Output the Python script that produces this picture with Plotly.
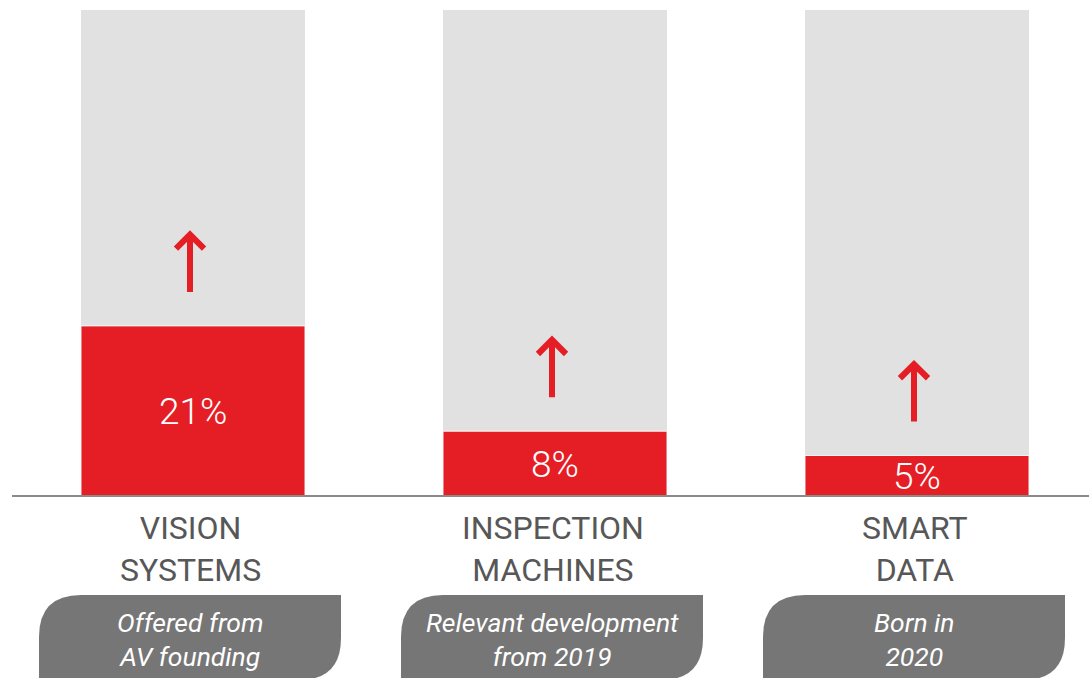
import plotly.graph_objects as go

# ---- data ----
categories = ["VISION<br>SYSTEMS", "INSPECTION<br>MACHINES", "SMART<br>DATA"]
shares = [21, 8, 5]
share_labels = ["21%", "8%", "5%"]
scale_full = [60, 60, 60]
notes = ["Offered from<br>AV founding", "Relevant development<br>from 2019", "Born in<br>2020"]

# ---- layout geometry (pixels) ----
W, H = 1089, 678
X0_PX, X_STEP = 193, 362        # pixel centre of first bar, spacing
BASE_PX, Y_PX = 496, 8.1        # baseline pixel, pixels per unit
BAR_W = 224 / X_STEP

xs = list(range(len(categories)))
xrange_ = [-X0_PX / X_STEP, (W - X0_PX) / X_STEP]
yrange_ = [-(H - BASE_PX) / Y_PX, BASE_PX / Y_PX]

def px_x(i, dx=0):
    return (X0_PX + i * X_STEP + dx) / W

def px_y(py):
    return 1 - py / H

RED = "#e51e25"
GREY_BG = "#e1e1e1"
FONT = "Roboto"

fig = go.Figure()
fig.add_trace(go.Bar(x=xs, y=scale_full, width=BAR_W, marker=dict(color=GREY_BG, line=dict(width=0)),
                     hoverinfo="skip", showlegend=False))
fig.add_trace(go.Bar(x=xs, y=shares, width=BAR_W,
                     marker=dict(color=RED, line=dict(color="rgba(255,255,255,0.9)", width=1)),
                     hoverinfo="skip", showlegend=False))

annotations = []
shapes = []
for i, (cat, v, lab, note) in enumerate(zip(categories, shares, share_labels, notes)):
    # percent label
    annotations.append(dict(x=i, y=v / 2, xref="x", yref="y", text=lab, showarrow=False,
                            xanchor="center", yanchor="middle", yshift=-1,
                            font=dict(family=FONT, size=37, color="white", weight=300)))
    # up arrow
    annotations.append(dict(x=i - 3 / X_STEP, y=v + 11.8, ax=i - 3 / X_STEP, ay=v + 4.0,
                            xref="x", yref="y", axref="x", ayref="y", text="",
                            showarrow=True, arrowhead=4, arrowsize=0.9, arrowwidth=6,
                            arrowcolor=RED, standoff=0))
    # category label
    annotations.append(dict(x=px_x(i, -2), y=px_y(549), xref="paper", yref="paper", text=cat,
                            showarrow=False, align="center", xanchor="center", yanchor="middle",
                            font=dict(family=FONT, size=32, color="#575757")))
    # note box
    L, R = px_x(i, -154), px_x(i, 148)
    T, B = px_y(595), px_y(680)
    rx, ry = 42 / W, 42 / H
    path = (f"M{L},{B} L{L},{T - ry} Q{L},{T} {L + rx},{T} L{R},{T} "
            f"L{R},{B + ry} Q{R},{B} {R - rx},{B} Z")
    shapes.append(dict(type="path", path=path, xref="paper", yref="paper",
                       fillcolor="#767676", line=dict(width=0), layer="above"))
    annotations.append(dict(x=px_x(i, -3), y=px_y(639), xref="paper", yref="paper", text=note,
                            showarrow=False, align="center", xanchor="center", yanchor="middle",
                            font=dict(family=FONT, size=26.5, color="white", style="italic")))

# baseline
shapes.append(dict(type="line", xref="paper", yref="y", x0=12 / W, x1=1, y0=0, y1=0,
                   line=dict(color="#8a8a8a", width=2), layer="above"))

fig.update_layout(
    width=W, height=H, margin=dict(l=0, r=0, t=0, b=0),
    paper_bgcolor="white", plot_bgcolor="white",
    barmode="overlay",
    xaxis=dict(range=xrange_, visible=False, fixedrange=True),
    yaxis=dict(range=yrange_, visible=False, fixedrange=True),
    shapes=shapes, annotations=annotations,
    font=dict(family=FONT),
)

fig.write_html("out.html", config={"displayModeBar": False},
               post_script="document.body.style.margin='0';document.body.style.overflow='hidden';")
